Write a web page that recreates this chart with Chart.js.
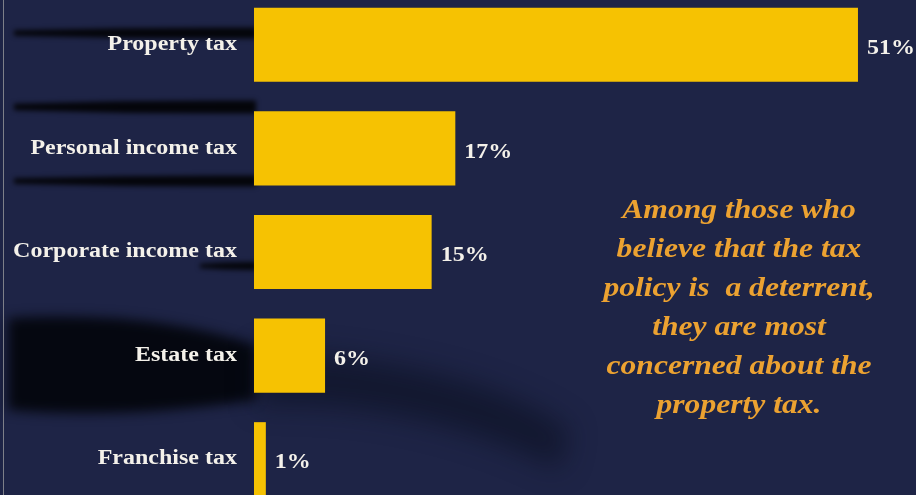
<!DOCTYPE html>
<html>
<head>
<meta charset="utf-8">
<script src="https://cdn.jsdelivr.net/npm/chart.js@4/dist/chart.umd.min.js"></script>
<style>
  html, body { margin: 0; padding: 0; background: #1e2446; overflow: hidden; }
  #wrap { position: absolute; left: 0; top: -7px; width: 916px; height: 518px; }
</style>
</head>
<body>
<div id="wrap"><canvas id="taxChart" width="916" height="518"></canvas></div>
<script>
// survey shares: which tax is the biggest concern
const categories = ["Property tax", "Personal income tax", "Corporate income tax", "Estate tax", "Franchise tax"];
const shares = [51, 17, 15, 6, 1];
const noteLines = [
  "Among those who",
  "believe that the tax",
  "policy is  a deterrent,",
  "they are most",
  "concerned about the",
  "property tax."
];

const SERIF = '"Liberation Serif", "Times New Roman", serif';
const WIDE = 1.2; // lettering is set horizontally widened

function wideText(ctx, text, x, y, sx) {
  ctx.save();
  ctx.translate(x, y);
  ctx.scale(sx, 1);
  ctx.fillText(text, 0, 0);
  ctx.restore();
}

// navy backdrop with the dark brush strokes behind the labels
const backdrop = {
  id: "backdrop",
  beforeDraw(chart) {
    const ctx = chart.ctx;
    ctx.save();
    ctx.fillStyle = "#1e2446";
    ctx.fillRect(0, 0, chart.width, chart.height);
    ctx.translate(0, 7);

    ctx.filter = "blur(2.5px)";
    ctx.fillStyle = "rgba(0,0,0,0.85)";
    // brush band: narrower at the left, full height where it meets the bar
    const streak = (x0, x1, y, h) => {
      ctx.beginPath();
      ctx.moveTo(x0, y - h * 0.25);
      ctx.quadraticCurveTo((x0 + x1) / 2, y - h * 0.55, x1, y - h / 2);
      ctx.lineTo(x1, y + h / 2);
      ctx.quadraticCurveTo((x0 + x1) / 2, y + h * 0.55, x0, y + h * 0.25);
      ctx.closePath();
      ctx.fill();
    };
    streak(14, 256, 33, 11);
    streak(14, 256, 107, 13);
    streak(14, 256, 181, 11);
    streak(200, 256, 266, 8);

    // large shadow sweeping in from the left
    ctx.filter = "blur(6px)";
    ctx.fillStyle = "rgba(2,4,10,0.9)";
    ctx.beginPath();
    ctx.moveTo(8, 318);
    ctx.quadraticCurveTo(150, 310, 256, 345);
    ctx.lineTo(256, 400);
    ctx.quadraticCurveTo(120, 420, 8, 410);
    ctx.closePath();
    ctx.fill();

    ctx.filter = "blur(14px)";
    ctx.fillStyle = "rgba(5,8,20,0.45)";
    ctx.beginPath();
    ctx.moveTo(256, 350);
    ctx.quadraticCurveTo(470, 360, 570, 430);
    ctx.lineTo(560, 470);
    ctx.quadraticCurveTo(420, 400, 256, 405);
    ctx.closePath();
    ctx.fill();
    ctx.filter = "none";

    // thin frame line on the left edge
    ctx.fillStyle = "#7d7f88";
    ctx.fillRect(3, -7, 1, chart.height);
    ctx.restore();
  }
};

// widen the category labels, keeping their right edge in place
const wideTicks = {
  id: "wideTicks",
  afterLayout(chart) {
    const y = chart.scales.y;
    if (y._wide) return;
    const draw = y.drawLabels;
    y.drawLabels = function (area) {
      const anchor = this.right - this.options.ticks.padding;
      this.ctx.save();
      this.ctx.transform(WIDE, 0, 0, 1, (1 - WIDE) * anchor, 0);
      draw.call(this, area);
      this.ctx.restore();
    };
    y._wide = true;
  }
};

// percent labels at the end of each bar, plus the orange note
const valueLabels = {
  id: "valueLabels",
  afterDatasetsDraw(chart) {
    const ctx = chart.ctx;
    const meta = chart.getDatasetMeta(0);
    ctx.save();
    ctx.font = "bold 20px " + SERIF;
    ctx.fillStyle = "#f4f1ea";
    ctx.textAlign = "left";
    ctx.textBaseline = "middle";
    meta.data.forEach((bar, i) => {
      wideText(ctx, shares[i] + "%", bar.x + 9, bar.y + 4, WIDE);
    });

    ctx.font = "italic bold 27px " + SERIF;
    ctx.fillStyle = "#eca231";
    ctx.textAlign = "center";
    ctx.textBaseline = "alphabetic";
    noteLines.forEach((line, i) => {
      wideText(ctx, line, 739, 225 + i * 39, 1.17);
    });
    ctx.restore();
  }
};

new Chart(document.getElementById("taxChart"), {
  type: "bar",
  data: {
    labels: categories,
    datasets: [{
      data: shares,
      backgroundColor: "#f6c202",
      borderWidth: 0,
      barPercentage: 0.715,
      categoryPercentage: 1
    }]
  },
  options: {
    indexAxis: "y",
    responsive: false,
    animation: false,
    layout: { padding: 0 },
    plugins: { legend: { display: false }, tooltip: { enabled: false } },
    scales: {
      x: { type: "linear", min: 0, max: 55.9, display: false },
      y: {
        grid: { display: false, drawTicks: false },
        border: { display: false },
        ticks: {
          color: "#f4f1ea",
          padding: 17,
          font: { family: SERIF, size: 20, weight: "bold" }
        },
        afterFit(scale) {
          scale.width = 254;
          scale.paddingTop = 0;
          scale.paddingBottom = 0;
        }
      }
    }
  },
  plugins: [backdrop, wideTicks, valueLabels]
});
</script>
</body>
</html>
